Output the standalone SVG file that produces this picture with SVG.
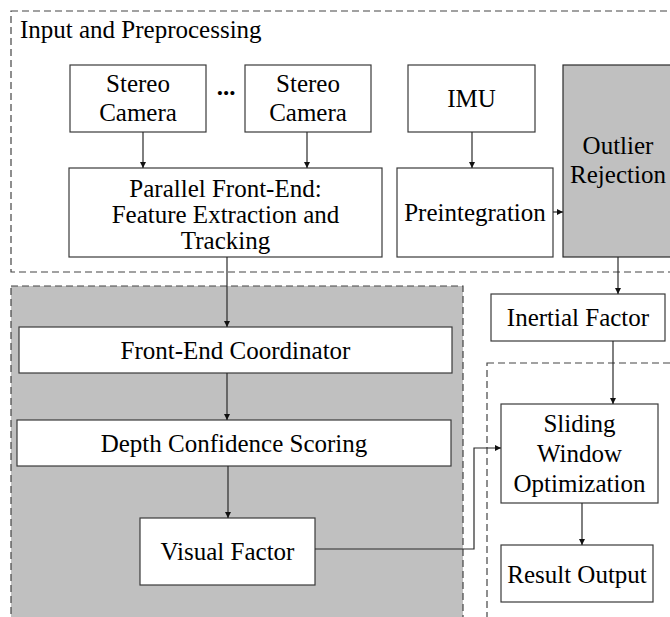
<svg xmlns="http://www.w3.org/2000/svg" width="670" height="617" viewBox="0 0 670 617">
  <style>
    .box { fill: #ffffff; stroke: #3a3a3a; stroke-width: 1.2; }
    .shaded { fill: #c0c0c0; stroke: #2a2a2a; stroke-width: 1.2; }
    .region { fill: none; stroke: #444444; stroke-width: 1.2; stroke-dasharray: 7 4; }
    .region-shaded { fill: #c0c0c0; stroke: #444444; stroke-width: 1.2; stroke-dasharray: 7 4; }
    text { font-family: 'Liberation Serif', 'DejaVu Serif', serif; font-size: 25px; fill: #000000; }
    .label { text-anchor: middle; }
    .edge { fill: none; stroke: #2a2a2a; stroke-width: 1.2; marker-end: url(#arrow); }
  </style>
  <defs>
    <marker id="arrow" viewBox="0 0 10 10" refX="10" refY="5" markerWidth="6" markerHeight="6" markerUnits="userSpaceOnUse" orient="auto">
      <path d="M0,0 L10,5 L0,10 z" fill="#111111"/>
    </marker>
  </defs>

  <rect width="670" height="617" fill="#ffffff"/>

  <!-- regions -->
  <g id="region-input">
    <rect class="region" x="11" y="11" width="680" height="261"/>
    <text x="20" y="38">Input and Preprocessing</text>
  </g>
  <g id="region-visual">
    <rect class="region-shaded" x="11" y="286" width="452" height="350"/>
  </g>
  <g id="region-backend">
    <rect class="region" x="487" y="363" width="200" height="280"/>
  </g>

  <!-- nodes -->
  <g id="camera-1">
    <rect class="box" x="70" y="65" width="136" height="67"/>
    <text class="label" x="138" y="92">Stereo</text>
    <text class="label" x="138" y="121">Camera</text>
  </g>
  <g id="ellipsis">
    <text class="label" x="226" y="95" font-weight="bold">...</text>
  </g>
  <g id="camera-n">
    <rect class="box" x="245" y="65" width="126" height="67"/>
    <text class="label" x="308" y="92">Stereo</text>
    <text class="label" x="308" y="121">Camera</text>
  </g>
  <g id="imu">
    <rect class="box" x="408" y="65" width="127" height="67"/>
    <text class="label" x="471.5" y="107">IMU</text>
  </g>
  <g id="outlier-rejection">
    <rect class="shaded" x="563" y="65" width="110" height="192"/>
    <text class="label" x="618" y="154">Outlier</text>
    <text class="label" x="618" y="183">Rejection</text>
  </g>
  <g id="parallel-front-end">
    <rect class="box" x="69" y="168" width="313" height="89"/>
    <text class="label" x="225.5" y="197">Parallel Front-End:</text>
    <text class="label" x="225.5" y="223">Feature Extraction and</text>
    <text class="label" x="225.5" y="249">Tracking</text>
  </g>
  <g id="preintegration">
    <rect class="box" x="397" y="168" width="156" height="89"/>
    <text class="label" x="475" y="221">Preintegration</text>
  </g>
  <g id="front-end-coordinator">
    <rect class="box" x="19" y="327" width="433" height="46"/>
    <text class="label" x="235.5" y="359">Front-End Coordinator</text>
  </g>
  <g id="depth-confidence">
    <rect class="box" x="17" y="420" width="434" height="46"/>
    <text class="label" x="234" y="452">Depth Confidence Scoring</text>
  </g>
  <g id="visual-factor">
    <rect class="box" x="140" y="518" width="175" height="67"/>
    <text class="label" x="227.5" y="560">Visual Factor</text>
  </g>
  <g id="inertial-factor">
    <rect class="box" x="491" y="294" width="174" height="47"/>
    <text class="label" x="578" y="326">Inertial Factor</text>
  </g>
  <g id="sliding-window">
    <rect class="box" x="501" y="404" width="157" height="99"/>
    <text class="label" x="579.5" y="432">Sliding</text>
    <text class="label" x="579.5" y="462">Window</text>
    <text class="label" x="579.5" y="492">Optimization</text>
  </g>
  <g id="result-output">
    <rect class="box" x="501" y="545" width="152" height="57"/>
    <text class="label" x="577" y="583">Result Output</text>
  </g>

  <!-- connectors -->
  <g id="connectors">
    <path class="edge" d="M143,132 V168"/>
    <path class="edge" d="M307,132 V168"/>
    <path class="edge" d="M472,132 V168"/>
    <path class="edge" d="M553,212 H563"/>
    <path class="edge" d="M227,257 V327"/>
    <path class="edge" d="M618,257 V294"/>
    <path class="edge" d="M227,373 V420"/>
    <path class="edge" d="M228,466 V518"/>
    <path class="edge" d="M613,341 V404"/>
    <path class="edge" d="M315,549 H474 V448 H501"/>
    <path class="edge" d="M582,503 V545"/>
  </g>
</svg>
